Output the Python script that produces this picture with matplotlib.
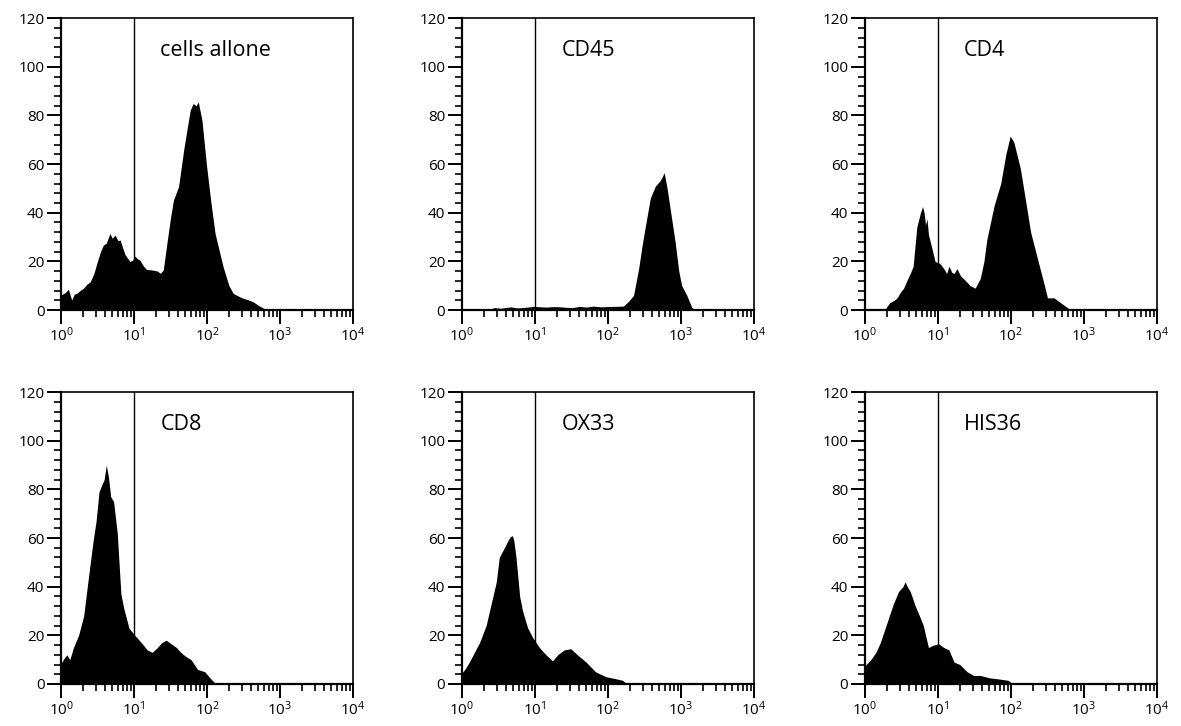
import numpy as np
from matplotlib import pyplot as plt
from matplotlib.ticker import MultipleLocator, LogLocator, LogFormatterSciNotation

plt.rcParams['font.family'] = ['Open Sans', 'DejaVu Sans']
plt.rcParams['mathtext.default'] = 'regular'

# log10 of fluorescence intensity and counts
cells_logx = [0, 0.055, 0.10, 0.146, 0.18, 0.215, 0.26, 0.306, 0.35, 0.40, 0.45, 0.49, 0.54, 0.58, 0.62,
              0.67, 0.70, 0.74, 0.78, 0.81, 0.85, 0.88, 0.945, 0.98, 1.01, 1.05, 1.08, 1.13, 1.17, 1.26,
              1.32, 1.36, 1.40, 1.45, 1.50, 1.54, 1.61, 1.68, 1.73, 1.77, 1.81, 1.85, 1.88, 1.93, 1.995,
              2.05, 2.11, 2.22, 2.30, 2.36, 2.47, 2.55, 2.63, 2.72, 2.82, 4.0]
cells_y = [6.2, 7.1, 8.5, 4.1, 6.5, 6.8, 8.0, 8.9, 10.5, 11.6, 15.0, 19.2, 24.0, 26.7, 27.5,
           31.5, 29.5, 30.8, 28.5, 28.8, 25.0, 22.6, 19.9, 20.5, 22.2, 21.0, 20.5, 18.0, 16.7, 16.4,
           16.0, 15.1, 16.4, 27.4, 38.0, 45.2, 50.7, 65.8, 75.0, 82.2, 84.9, 84.0, 85.6, 78.1, 58.9,
           45.0, 31.5, 17.8, 10.0, 6.8, 5.1, 4.3, 3.4, 1.6, 0, 0]

cd45_logx = [0, 0.39, 0.44, 0.53, 0.60, 0.67, 0.74, 0.80, 0.90, 0.98, 1.08, 1.16, 1.25, 1.34, 1.43,
             1.52, 1.61, 1.70, 1.80, 1.90, 1.98, 2.10, 2.21, 2.28, 2.35, 2.42, 2.47, 2.51, 2.58, 2.65,
             2.71, 2.74, 2.77, 2.81, 2.85, 2.92, 2.97, 3.01, 3.08, 3.15, 3.19, 4.0]
cd45_y = [0, 0.3, 1.0, 0.7, 1.0, 1.3, 0.9, 0.9, 1.2, 1.5, 1.3, 1.2, 1.4, 1.3, 1.1,
          1.0, 1.5, 1.2, 1.6, 1.3, 1.4, 1.5, 1.6, 3.5, 6.0, 17.0, 27.0, 34.0, 46.0, 51.0,
          53.0, 54.5, 56.5, 50.0, 42.0, 28.0, 16.0, 10.0, 6.0, 1.0, 0, 0]

cd4_logx = [0, 0.28, 0.29, 0.34, 0.40, 0.44, 0.49, 0.53, 0.58, 0.62, 0.66, 0.71, 0.76, 0.79, 0.81,
            0.83, 0.85, 0.87, 0.92, 0.96, 1.03, 1.08, 1.12, 1.15, 1.19, 1.22, 1.26, 1.31, 1.38, 1.44,
            1.51, 1.58, 1.63, 1.67, 1.77, 1.86, 1.93, 1.99, 2.04, 2.13, 2.27, 2.39, 2.46, 2.50, 2.59,
            2.68, 2.75, 2.82, 4.0]
cd4_y = [0, 0, 1.0, 3.0, 4.0, 5.0, 7.5, 9.0, 12.5, 15.0, 18.0, 34.0, 40.0, 42.5, 40.0,
         35.0, 37.5, 31.0, 25.0, 20.0, 19.0, 17.0, 15.0, 18.0, 15.5, 15.0, 17.0, 14.0, 12.0, 10.0,
         9.0, 13.0, 20.0, 29.0, 43.0, 52.0, 64.0, 71.5, 69.0, 58.0, 32.0, 18.0, 10.0, 5.0, 5.0,
         3.0, 1.5, 0, 0]

cd8_logx = [0, 0.04, 0.08, 0.12, 0.17, 0.24, 0.31, 0.38, 0.44, 0.48, 0.52, 0.56, 0.59, 0.62, 0.65,
            0.68, 0.72, 0.77, 0.80, 0.82, 0.86, 0.93, 1.01, 1.10, 1.18, 1.25, 1.32, 1.38, 1.44, 1.51,
            1.58, 1.64, 1.70, 1.78, 1.87, 1.97, 2.04, 2.12, 4.0]
cd8_y = [8.5, 10.5, 12.0, 10.0, 15.0, 20.0, 28.0, 45.0, 59.0, 67.0, 79.0, 82.0, 84.0, 90.0, 85.0,
         77.0, 75.0, 62.0, 47.0, 37.0, 31.0, 23.0, 20.0, 17.0, 14.0, 13.0, 15.0, 17.0, 18.0, 16.5,
         15.0, 13.0, 11.5, 10.0, 6.0, 5.0, 2.5, 0, 0]

ox33_logx = [0, 0.05, 0.10, 0.17, 0.24, 0.33, 0.40, 0.47, 0.51, 0.58, 0.63, 0.66, 0.69, 0.71, 0.74,
             0.79, 0.83, 0.90, 0.97, 1.06, 1.15, 1.24, 1.31, 1.40, 1.49, 1.58, 1.70, 1.83, 1.97, 2.10,
             2.20, 2.26, 4.0]
ox33_y = [4.5, 6.5, 9.0, 13.0, 17.0, 24.0, 33.0, 42.0, 52.0, 56.0, 59.0, 60.5, 61.0, 59.0, 52.0,
          36.0, 30.0, 23.0, 19.0, 15.0, 12.0, 9.5, 12.0, 14.0, 14.5, 12.0, 9.0, 5.0, 3.0, 2.2,
          1.5, 0, 0]

his36_logx = [0, 0.08, 0.15, 0.21, 0.30, 0.39, 0.46, 0.52, 0.55, 0.58, 0.62, 0.69, 0.76, 0.80, 0.83,
              0.87, 0.94, 1.01, 1.08, 1.15, 1.22, 1.30, 1.40, 1.49, 1.58, 1.71, 1.85, 1.96, 2.03, 4.0]
his36_y = [7.5, 10.0, 13.0, 17.0, 25.0, 33.0, 38.0, 40.0, 42.0, 40.0, 38.0, 32.0, 27.0, 24.0, 20.0,
           15.0, 16.0, 16.5, 15.0, 14.0, 9.0, 8.0, 5.0, 3.5, 3.5, 2.5, 2.0, 1.5, 0, 0]

labels = ["cells allone", "CD45", "CD4", "CD8", "OX33", "HIS36"]
series = [(cells_logx, cells_y), (cd45_logx, cd45_y), (cd4_logx, cd4_y),
          (cd8_logx, cd8_y), (ox33_logx, ox33_y), (his36_logx, his36_y)]
gate = 10

fig = plt.figure(figsize=(11.81, 7.26), dpi=100)
lefts = [0.0517, 0.3912, 0.7324]
bottoms = [0.573, 0.0579]
w, h = 0.2472, 0.402

for i, (label, (lx, yv)) in enumerate(zip(labels, series)):
    ax = fig.add_axes([lefts[i % 3], bottoms[i // 3], w, h])
    x = 10 ** np.array(lx)
    ax.fill_between(x, 0, yv, color="black", linewidth=0)
    ax.axvline(gate, color="black", linewidth=1.0)
    ax.set_xscale("log")
    ax.set_xlim(1, 1e4)
    ax.set_ylim(0, 120)
    ax.xaxis.set_major_locator(LogLocator(base=10, numticks=10))
    ax.xaxis.set_minor_locator(LogLocator(base=10, subs=np.arange(2, 10), numticks=10))
    ax.xaxis.set_major_formatter(LogFormatterSciNotation())
    ax.yaxis.set_major_locator(MultipleLocator(20))
    ax.yaxis.set_minor_locator(MultipleLocator(4))
    ax.tick_params(which="major", length=10, width=1.4, labelsize=11, direction="out", pad=2)
    ax.tick_params(which="minor", length=5, width=1.2, direction="out")
    for s in ax.spines.values():
        s.set_linewidth(1.2)
    ax.spines["left"].set_linewidth(1.6)
    ax.spines["bottom"].set_linewidth(1.6)
    ax.text(0.34, 0.89, label, transform=ax.transAxes, fontsize=15.5, va="center", ha="left")

fig.savefig("out.png", dpi=100)
